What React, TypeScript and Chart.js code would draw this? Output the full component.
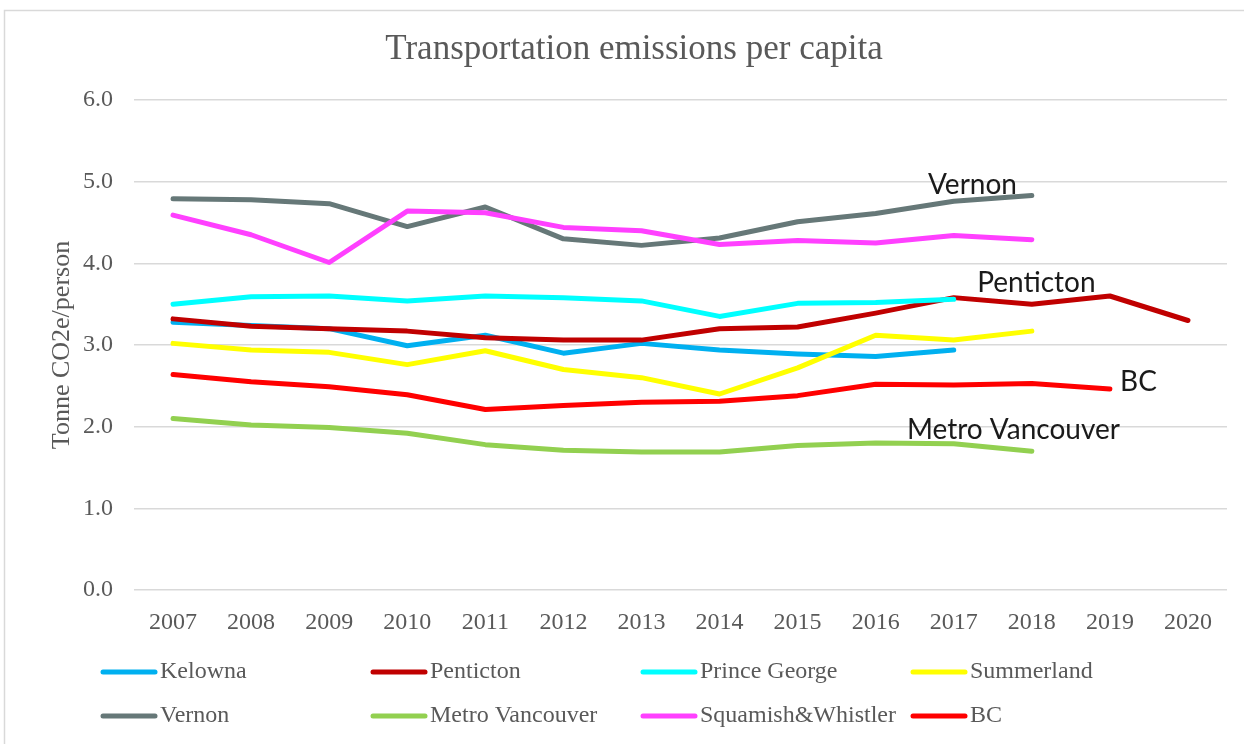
import React, { useEffect, useRef } from "react";
import { Chart, registerables } from "chart.js";

Chart.register(...registerables);

const years = ["2007","2008","2009","2010","2011","2012","2013","2014","2015","2016","2017","2018","2019","2020"];

const kelowna = [3.28, 3.24, 3.20, 2.99, 3.12, 2.90, 3.02, 2.94, 2.89, 2.86, 2.94, null, null, null];
const penticton = [3.32, 3.23, 3.20, 3.17, 3.09, 3.06, 3.06, 3.20, 3.22, 3.39, 3.58, 3.50, 3.60, 3.30];
const princeGeorge = [3.50, 3.59, 3.60, 3.54, 3.60, 3.58, 3.54, 3.35, 3.51, 3.52, 3.56, null, null, null];
const summerland = [3.02, 2.94, 2.91, 2.76, 2.93, 2.70, 2.60, 2.40, 2.72, 3.12, 3.06, 3.17, null, null];
const vernon = [4.79, 4.78, 4.73, 4.45, 4.69, 4.30, 4.22, 4.31, 4.51, 4.61, 4.76, 4.83, null, null];
const metroVancouver = [2.10, 2.02, 1.99, 1.92, 1.78, 1.71, 1.69, 1.69, 1.77, 1.80, 1.79, 1.70, null, null];
const squamishWhistler = [4.59, 4.35, 4.01, 4.64, 4.62, 4.44, 4.40, 4.23, 4.28, 4.25, 4.34, 4.29, null, null];
const bc = [2.64, 2.55, 2.49, 2.39, 2.21, 2.26, 2.30, 2.31, 2.38, 2.52, 2.51, 2.53, 2.46, null];

const seriesNames = ["Kelowna", "Penticton", "Prince George", "Summerland", "Vernon", "Metro Vancouver", "Squamish&Whistler", "BC"];
const seriesValues = [kelowna, penticton, princeGeorge, summerland, vernon, metroVancouver, squamishWhistler, bc];
const seriesColors = ["#00b0f0", "#c00000", "#00ffff", "#ffff00", "#667878", "#92d050", "#ff40ff", "#ff0000"];

const yTicks = [0, 1, 2, 3, 4, 5, 6];

// in-chart labels: text anchored at (category position, value)
const annotationTexts = ["Vernon", "Penticton", "BC", "Metro Vancouver"];
const annotationCats = [9.67, 10.3, 12.13, 9.4];
const annotationVals = [4.96, 3.76, 2.55, 1.96];

const TITLE = "Transportation emissions per capita";
const Y_TITLE = "Tonne CO2e/person";
const SERIF = "'Liberation Serif', serif";
const SANS = "Lato, 'Liberation Sans', sans-serif";
const TEXT_GREY = "#595959";

const decorPlugin = {
  id: "decor",
  beforeDraw(chart: any) {
    const ctx = chart.ctx;
    ctx.save();
    ctx.fillStyle = "#ffffff";
    ctx.fillRect(0, 0, chart.width, chart.height);
    ctx.strokeStyle = "#d9d9d9";
    ctx.lineWidth = 1.5;
    ctx.strokeRect(4.5, 10.5, chart.width + 10, chart.height + 10);
    // title
    ctx.fillStyle = TEXT_GREY;
    ctx.font = `35px ${SERIF}`;
    ctx.textAlign = "center";
    ctx.textBaseline = "middle";
    ctx.fillText(TITLE, 634, 50);
    // y axis title
    ctx.translate(62, 345);
    ctx.rotate(-Math.PI / 2);
    ctx.font = `26px ${SERIF}`;
    ctx.fillText(Y_TITLE, 0, 0);
    ctx.restore();
  },
  afterDraw(chart: any) {
    const ctx = chart.ctx;
    const xs = chart.scales.x;
    const ys = chart.scales.y;
    ctx.save();
    // annotations
    ctx.fillStyle = "#1a1a1a";
    ctx.font = `28px ${SANS}`;
    ctx.textAlign = "left";
    ctx.textBaseline = "middle";
    annotationTexts.forEach((t, i) => {
      ctx.fillText(t, xs.getPixelForValue(annotationCats[i]), ys.getPixelForValue(annotationVals[i]));
    });
    // legend
    const colX = [101, 371, 641, 911];
    const rowY = [672, 716];
    ctx.font = `24px ${SERIF}`;
    ctx.lineCap = "round";
    ctx.lineWidth = 5;
    seriesNames.forEach((name, i) => {
      const x = colX[i % 4];
      const y = rowY[Math.floor(i / 4)];
      ctx.strokeStyle = seriesColors[i];
      ctx.beginPath();
      ctx.moveTo(x + 2, y);
      ctx.lineTo(x + 54, y);
      ctx.stroke();
      ctx.fillStyle = TEXT_GREY;
      ctx.textAlign = "left";
      ctx.textBaseline = "middle";
      ctx.fillText(name, x + 59, y);
    });
    ctx.restore();
  },
};

export default function App() {
  const ref = useRef<HTMLCanvasElement | null>(null);
  useEffect(() => {
    if (!ref.current) return;
    const chart = new Chart(ref.current, {
      type: "line",
      data: {
        labels: years,
        datasets: seriesNames.map((name, i) => ({
          label: name,
          data: seriesValues[i],
          borderColor: seriesColors[i],
          backgroundColor: seriesColors[i],
          borderWidth: 5,
          pointRadius: 0,
          pointHoverRadius: 0,
          tension: 0,
          fill: false,
          borderCapStyle: "round",
          borderJoinStyle: "round",
          order: seriesNames.length - i,
        })),
      },
      options: {
        animation: false,
        responsive: false,
        maintainAspectRatio: false,
        layout: { padding: { left: 40, right: 17, top: 100, bottom: 104 } },
        plugins: {
          legend: { display: false },
          title: { display: false },
          tooltip: { enabled: false },
        },
        scales: {
          x: {
            type: "category",
            offset: true,
            grid: { display: false },
            border: { display: false },
            ticks: {
              color: TEXT_GREY,
              font: { family: SERIF, size: 24 },
              padding: 10,
              maxRotation: 0,
              autoSkip: false,
            },
            afterFit(scale: any) {
              scale.height = 50;
            },
          },
          y: {
            min: 0,
            max: 6,
            afterBuildTicks(scale: any) {
              scale.ticks = yTicks.map((v) => ({ value: v }));
            },
            grid: { color: "#d9d9d9", lineWidth: 1.5, drawTicks: false },
            border: { display: false },
            ticks: {
              color: TEXT_GREY,
              font: { family: SERIF, size: 24 },
              padding: 21,
              callback: (v: any) => Number(v).toFixed(1),
            },
            afterFit(scale: any) {
              scale.width = 94;
            },
          },
        },
      } as any,
      plugins: [decorPlugin],
    });
    return () => chart.destroy();
  }, []);
  return (
    <div style={{ position: "absolute", left: 0, top: 0, width: 1244, height: 744 }}>
      <canvas ref={ref} width={1244} height={744} style={{ width: 1244, height: 744, display: "block" }} />
    </div>
  );
}
